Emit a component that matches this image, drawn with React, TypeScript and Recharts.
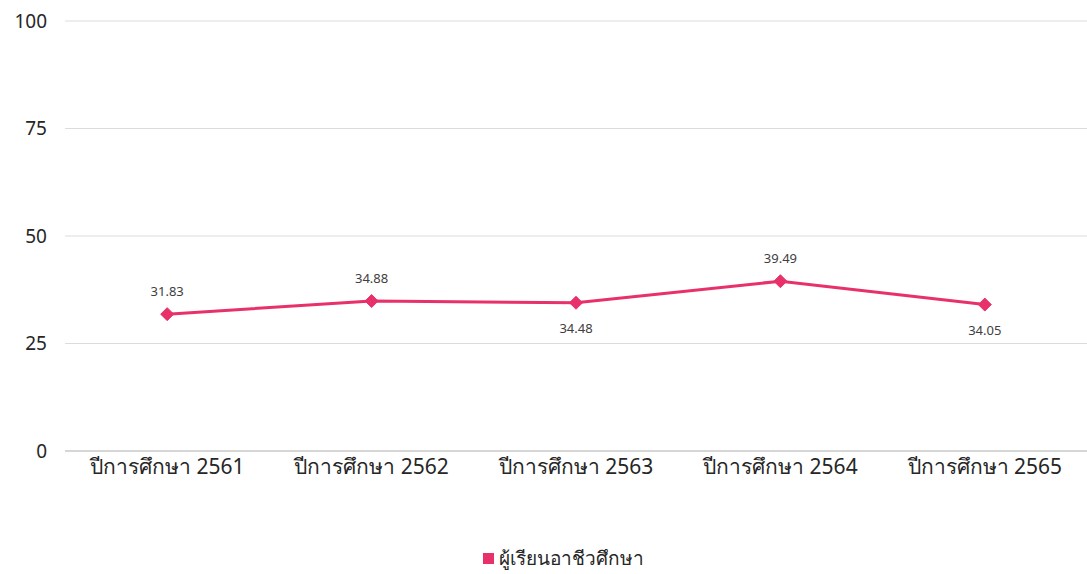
import React from 'react';
import { LineChart, Line, XAxis, YAxis, CartesianGrid, LabelList } from 'recharts';

const categories = ['ปีการศึกษา 2561', 'ปีการศึกษา 2562', 'ปีการศึกษา 2563', 'ปีการศึกษา 2564', 'ปีการศึกษา 2565'];
const values = [31.83, 34.88, 34.48, 39.49, 34.05];
const labelSides = ['top', 'top', 'bottom', 'top', 'bottom'];
const yTicks = [0, 25, 50, 75, 100];
const seriesName = 'ผู้เรียนอาชีวศึกษา';

const data = categories.map((c, i) => ({ name: c, value: values[i] }));

const COLOR = '#e8306a';
const FONT = 'Tahoma, "Noto Sans", "DejaVu Sans", sans-serif';

const Diamond = (props: any) => {
  const { cx, cy } = props;
  if (cx == null || cy == null) return null;
  const r = 6.5;
  return <polygon points={`${cx},${cy - r} ${cx + r},${cy} ${cx},${cy + r} ${cx - r},${cy}`} fill={COLOR} stroke={COLOR} strokeWidth={1} />;
};

const DataLabel = (props: any) => {
  const { x, y, value, index } = props;
  const side = labelSides[index];
  const dy = side === 'top' ? -18 : 30;
  return (
    <text x={x} y={y + dy} textAnchor="middle" fontSize={13} fill="#404040" fontFamily={FONT}>
      {Number(value).toFixed(2)}
    </text>
  );
};

export default function App() {
  return (
    <div style={{ position: 'absolute', left: 0, top: 0, width: 1087, height: 574, background: '#fff' }}>
      <LineChart width={1087} height={574} data={data} margin={{ top: 21, right: 0, bottom: 93, left: 0 }}>
        <CartesianGrid vertical={false} stroke="#dcdcdc" />
        <XAxis
          dataKey="name"
          scale="band"
          tickLine={false}
          axisLine={{ stroke: '#bfbfbf' }}
          tick={{ fontSize: 21, fill: '#262626', fontFamily: FONT }}
          tickMargin={2}
          interval={0}
        />
        <YAxis
          domain={[0, 100]}
          ticks={yTicks}
          width={65}
          tickLine={false}
          axisLine={false}
          tick={{ fontSize: 19, fill: '#262626', fontFamily: FONT }}
          tickMargin={12}
        />
        <Line
          type="linear"
          dataKey="value"
          name={seriesName}
          stroke={COLOR}
          strokeWidth={3}
          dot={<Diamond />}
          activeDot={false}
          isAnimationActive={false}
        >
          <LabelList dataKey="value" content={<DataLabel />} />
        </Line>
      </LineChart>
      <div
        style={{
          position: 'absolute', top: 543, left: 483,
          display: 'flex', alignItems: 'center', whiteSpace: 'nowrap',
          fontFamily: FONT, fontSize: 19, color: '#262626',
        }}
      >
        <span style={{ display: 'inline-block', width: 11, height: 11, background: COLOR, marginRight: 5 }} />
        <span>{seriesName}</span>
      </div>
    </div>
  );
}
